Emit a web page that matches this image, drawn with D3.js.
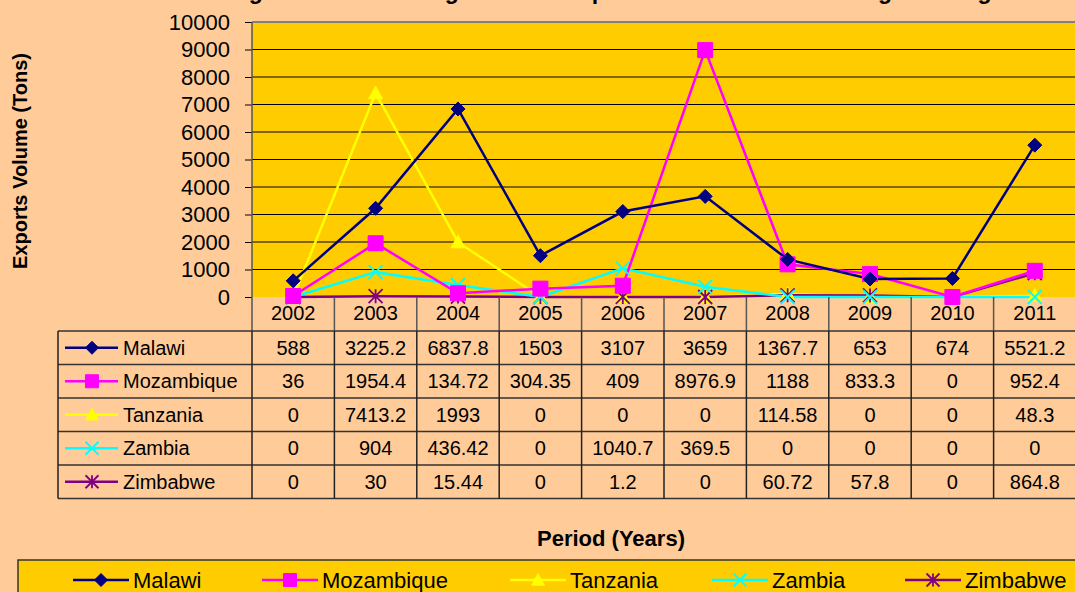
<!DOCTYPE html>
<html>
<head>
<meta charset="utf-8">
<script src="https://cdn.jsdelivr.net/npm/d3@7/dist/d3.min.js"></script>
<style>
  html, body { margin: 0; padding: 0; background: #FFCC99; overflow: hidden; }
  svg { display: block; font-family: Arial, "Liberation Sans", sans-serif; }
</style>
</head>
<body>
<div id="chart"></div>
<script>
// chart data
const years = ['2002', '2003', '2004', '2005', '2006', '2007', '2008', '2009', '2010', '2011'];
const countries = ['Malawi', 'Mozambique', 'Tanzania', 'Zambia', 'Zimbabwe'];
const malawi     = [588, 3225.2, 6837.8, 1503, 3107, 3659, 1367.7, 653, 674, 5521.2];
const mozambique = [36, 1954.4, 134.72, 304.35, 409, 8976.9, 1188, 833.3, 0, 952.4];
const tanzania   = [0, 7413.2, 1993, 0, 0, 0, 114.58, 0, 0, 48.3];
const zambia     = [0, 904, 436.42, 0, 1040.7, 369.5, 0, 0, 0, 0];
const zimbabwe   = [0, 30, 15.44, 0, 1.2, 0, 60.72, 57.8, 0, 864.8];
const yTicks = [0, 1000, 2000, 3000, 4000, 5000, 6000, 7000, 8000, 9000, 10000];

const seriesValues = [malawi, mozambique, tanzania, zambia, zimbabwe];
const colors  = ['#000080', '#FF00FF', '#FFFF00', '#00FFFF', '#800080'];
const markers = ['diamond', 'square', 'triangle', 'x', 'star'];

const W = 1075, H = 592;
const plot = {left: 252, right: 1076, top: 22, bottom: 297};
const rowH = 33.5;
const tableTop = 331;
const tableLeft = 58;

const svg = d3.select('#chart').append('svg')
    .attr('width', W).attr('height', H);

svg.append('rect').attr('width', W).attr('height', H).attr('fill', '#FFCC99');

const x = d3.scaleBand().domain(years).range([plot.left, plot.right]);
const y = d3.scaleLinear().domain([0, 10000]).range([plot.bottom, plot.top]);

// marker shapes
function markerPath(type, s){
    const h = s / 2;
    switch(type){
        case 'diamond': return `M0,${-h}L${h},0L0,${h}L${-h},0Z`;
        case 'square': return `M${-h},${-h}H${h}V${h}H${-h}Z`;
        case 'triangle': return `M0,${-h}L${h},${h*0.8}L${-h},${h*0.8}Z`;
        case 'x': return `M${-h},${-h}L${h},${h}M${h},${-h}L${-h},${h}`;
        case 'star': return `M${-h},${-h}L${h},${h}M${h},${-h}L${-h},${h}M0,${-h}V${h}`;
    }
}
function drawMarker(g, type, color, cx, cy, s){
    const filled = type === 'diamond' || type === 'square' || type === 'triangle';
    g.append('path')
        .attr('transform', `translate(${cx},${cy})`)
        .attr('d', markerPath(type, s))
        .attr('fill', filled ? color : 'none')
        .attr('stroke', color)
        .attr('stroke-width', filled ? 1 : 1.8);
}

// title (cut off at the top edge, only descenders show)
svg.append('text')
    .attr('x', 610).attr('y', -1)
    .attr('text-anchor', 'middle')
    .attr('font-size', 23).attr('font-weight', 'bold')
    .text('Figure 2: Trend of Agricultural Exports from Malawi and Neighbouring');

// plot area
svg.append('rect')
    .attr('x', plot.left).attr('y', plot.top)
    .attr('width', plot.right - plot.left).attr('height', plot.bottom - plot.top)
    .attr('fill', '#FFCC00');

svg.append('g').selectAll('line')
    .data(yTicks.slice(1))
    .join('line')
    .attr('x1', plot.left).attr('x2', plot.right)
    .attr('y1', d => y(d)).attr('y2', d => y(d))
    .attr('stroke', d => d === 10000 ? '#808080' : '#000')
    .attr('stroke-width', d => d === 10000 ? 2 : 1.2);

// y axis
const yAxis = svg.append('g')
    .attr('transform', `translate(${plot.left},0)`)
    .call(d3.axisLeft(y).tickValues(yTicks).tickSize(7).tickPadding(15).tickFormat(d3.format('d')));
yAxis.select('.domain').remove();
yAxis.selectAll('.tick line').attr('stroke', '#000');
yAxis.selectAll('.tick text')
    .attr('font-size', 22).attr('fill', '#000')
    .attr('font-family', 'Arial, "Liberation Sans", sans-serif');
svg.append('line')
    .attr('x1', plot.left).attr('x2', plot.left)
    .attr('y1', plot.top).attr('y2', tableTop)
    .attr('stroke', '#555').attr('stroke-width', 1.5);

// series lines
const line = d3.line()
    .x((d, i) => x(years[i]) + x.bandwidth() / 2)
    .y(d => y(d));

const order = [2, 4, 3, 1, 0];
const seriesG = svg.append('g');
order.forEach(si => {
    seriesG.append('path')
        .datum(seriesValues[si])
        .attr('d', line)
        .attr('fill', 'none')
        .attr('stroke', colors[si])
        .attr('stroke-width', 2.5);
});
order.forEach(si => {
    seriesValues[si].forEach((v, i) => {
        drawMarker(seriesG, markers[si], colors[si],
            x(years[i]) + x.bandwidth() / 2, y(v), si === 1 ? 15 : 14);
    });
});

// data table
const table = svg.append('g');
// year header
table.selectAll('.yr')
    .data(years)
    .join('text')
    .attr('class', 'yr')
    .attr('x', d => x(d) + x.bandwidth() / 2)
    .attr('y', plot.bottom + 23)
    .attr('text-anchor', 'middle')
    .attr('font-size', 20)
    .text(d => d);

// vertical separators in header
table.selectAll('.hsep')
    .data(years.slice(1))
    .join('line')
    .attr('x1', d => x(d)).attr('x2', d => x(d))
    .attr('y1', plot.bottom).attr('y2', tableTop)
    .attr('stroke', '#555').attr('stroke-width', 1.5);

// horizontal rules
const rowYs = d3.range(countries.length + 1).map(i => tableTop + i * rowH);
table.selectAll('.hrule')
    .data(rowYs)
    .join('line')
    .attr('x1', tableLeft).attr('x2', plot.right)
    .attr('y1', d => d).attr('y2', d => d)
    .attr('stroke', '#333').attr('stroke-width', 1.5);

// vertical rules in body
const vx = [tableLeft, plot.left].concat(years.slice(1).map(d => x(d)));
table.selectAll('.vrule')
    .data(vx)
    .join('line')
    .attr('x1', d => d).attr('x2', d => d)
    .attr('y1', tableTop).attr('y2', tableTop + countries.length * rowH)
    .attr('stroke', '#222').attr('stroke-width', 1.5);

countries.forEach((c, ci) => {
    const cy = tableTop + ci * rowH + rowH / 2;
    table.append('line')
        .attr('x1', 65).attr('x2', 118)
        .attr('y1', cy).attr('y2', cy)
        .attr('stroke', colors[ci]).attr('stroke-width', 2.5);
    drawMarker(table, markers[ci], colors[ci], 92, cy, 13);
    table.append('text')
        .attr('x', 123).attr('y', cy + 7)
        .attr('font-size', 20)
        .text(c);
    table.selectAll(null)
        .data(seriesValues[ci])
        .join('text')
        .attr('x', (d, i) => x(years[i]) + x.bandwidth() / 2)
        .attr('y', cy + 7)
        .attr('text-anchor', 'middle')
        .attr('font-size', 20)
        .text(d => String(d));
});

// axis titles
svg.append('text')
    .attr('transform', 'translate(27,161) rotate(-90)')
    .attr('text-anchor', 'middle')
    .attr('font-size', 20).attr('font-weight', 'bold')
    .text('Exports Volume (Tons)');

svg.append('text')
    .attr('x', 611).attr('y', 546)
    .attr('text-anchor', 'middle')
    .attr('font-size', 22).attr('font-weight', 'bold')
    .text('Period (Years)');

// legend
const legend = svg.append('g');
legend.append('rect')
    .attr('x', 18).attr('y', 560)
    .attr('width', 1070).attr('height', 50)
    .attr('fill', '#FFCC00')
    .attr('stroke', '#333').attr('stroke-width', 1.5);
const legendX = [73, 262, 510, 712, 905];
countries.forEach((c, ci) => {
    const lx = legendX[ci], ly = 580;
    legend.append('line')
        .attr('x1', lx).attr('x2', lx + 56)
        .attr('y1', ly).attr('y2', ly)
        .attr('stroke', colors[ci]).attr('stroke-width', 2.5);
    drawMarker(legend, markers[ci], colors[ci], lx + 28, ly, 13);
    legend.append('text')
        .attr('x', lx + 60).attr('y', ly + 8)
        .attr('font-size', 22)
        .text(c);
});
</script>
</body>
</html>
